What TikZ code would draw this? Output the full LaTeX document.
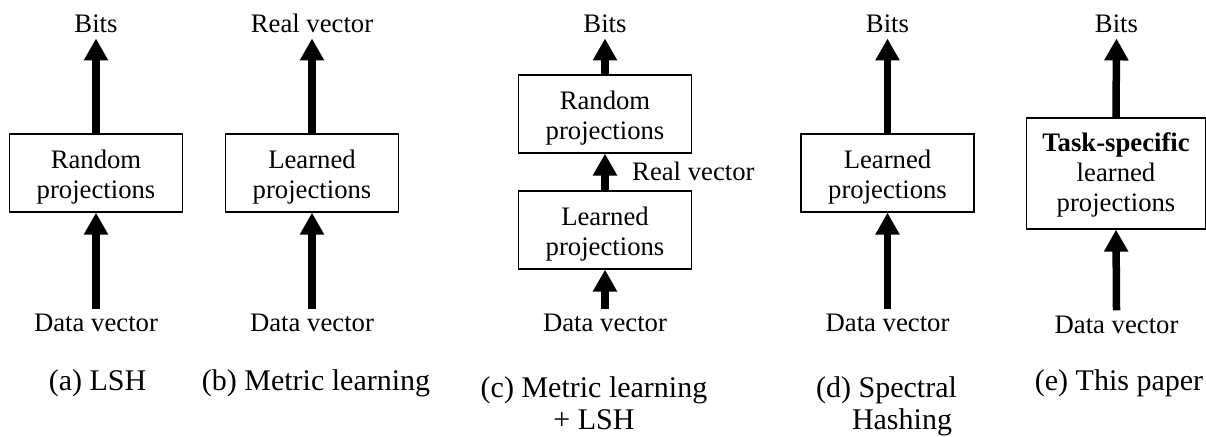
\documentclass[tikz,border=0pt]{standalone}
\usepackage{fontspec}
\setmainfont{Liberation Serif}
\usetikzlibrary{arrows.meta}
\newcommand{\lowstrut}[1]{\rule{0pt}{#1}}
\tikzset{
  lbl/.style={font=\fontsize{26.7}{30}\selectfont, inner sep=5pt, anchor=base},
  captxt/.style={font=\fontsize{30}{35}\selectfont, inner sep=0pt, anchor=base},
  projbox/.style={draw=black, line width=1.3pt, align=center, inner sep=0pt,
    minimum width=173pt, minimum height=78pt, font=\fontsize{26.7}{30}\selectfont},
  fat/.style={line width=7.5pt, -{Triangle[width=23pt,length=22pt]}}
}
\begin{document}
\begin{tikzpicture}[x=1pt,y=-1pt]
\useasboundingbox (0,0) rectangle (1206,436);
% (a)
\node[projbox] (ba) at (96,173) {\lowstrut{27.2pt}Random\\projections};
\node[lbl] (ta) at (96,33) {Bits};
\node[lbl] (da) at (96,331.5) {Data vector};
\draw[fat] (ba.north) -- (ta.south);
\draw[fat] (da.north) -- (ba.south);
\node[captxt] (ca) at (97.5,390) {(a) LSH};
% (b)
\node[projbox] (bb) at (312,173) {\lowstrut{27.2pt}Learned\\projections};
\node[lbl] (tb) at (312,33) {Real vector};
\node[lbl] (db) at (312,331.5) {Data vector};
\draw[fat] (bb.north) -- (tb.south);
\draw[fat] (db.north) -- (bb.south);
\node[captxt] (cb) at (316,390) {(b) Metric learning};
% (c)
\node[projbox] (bc1) at (605,114) {\lowstrut{27.2pt}Random\\projections};
\node[projbox] (bc2) at (605,230) {\lowstrut{27.2pt}Learned\\projections};
\node[lbl] (tc) at (605,33) {Bits};
\node[lbl] (dc) at (605,331.5) {Data vector};
\node[lbl, anchor=base west, inner sep=0pt] (rc) at (632,180) {Real vector};
\draw[fat] (bc1.north) -- (tc.south);
\draw[fat] (bc2.north) -- (bc1.south);
\draw[fat] (dc.north) -- (bc2.south);
\node[captxt] (cc1) at (594,397) {(c) Metric learning};
\node[captxt] (cc2) at (594,429.5) {+ LSH};
% (d)
\node[projbox] (bd) at (887.5,173) {\lowstrut{27.2pt}Learned\\projections};
\node[lbl] (td) at (887.5,33) {Bits};
\node[lbl] (dd) at (887.5,331.5) {Data vector};
\draw[fat] (bd.north) -- (td.south);
\draw[fat] (dd.north) -- (bd.south);
\node[captxt] (cd1) at (886.5,397) {(d) Spectral};
\node[captxt] (cd2) at (902,429.5) {Hashing};
% (e)
\node[projbox, minimum width=179pt, minimum height=111pt] (be) at (1116,173.5) {\lowstrut{21.2pt}\textbf{Task-specific}\\learned\\projections};
\node[lbl] (te) at (1116.5,33) {Bits};
\node[lbl] (de) at (1116.5,333) {Data vector};
\draw[fat] (be.north) -- (te.south);
\draw[fat] (de.north) -- (be.south);
\node[captxt] (ce) at (1119,390) {(e) This paper};
\end{tikzpicture}
\end{document}
